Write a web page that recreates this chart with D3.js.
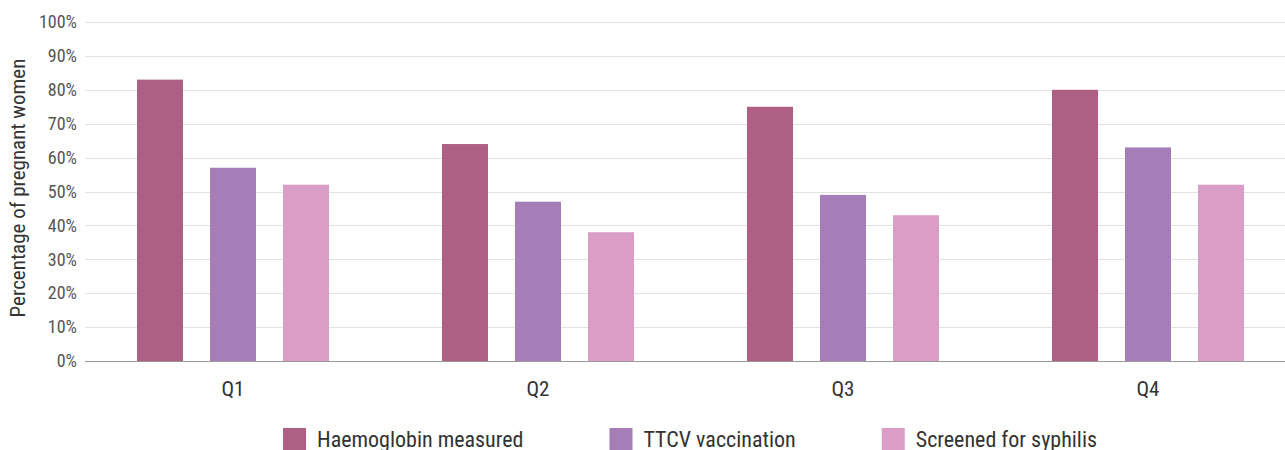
<!DOCTYPE html>
<html><head><meta charset="utf-8">
<script src="https://cdn.jsdelivr.net/npm/d3@7/dist/d3.min.js"></script>
<style>
html,body{margin:0;padding:0;background:#fff;}
text{font-family:"Roboto Condensed","Liberation Sans Narrow","Roboto",sans-serif;}
</style></head>
<body><svg id="c" width="1285" height="450"></svg>
<script>
const quarters = ["Q1","Q2","Q3","Q4"];
const seriesNames = ["Haemoglobin measured","TTCV vaccination","Screened for syphilis"];
const haemoglobin = [83,64,75,80];
const ttcv = [57,47,49,63];
const syphilis = [52,38,43,52];
const yTicks = [0,10,20,30,40,50,60,70,80,90,100];
const colors = ["#ad6084","#a57db7","#da9dc6"];
const yTitle = "Percentage of pregnant women";

const seriesValues = [haemoglobin, ttcv, syphilis];
const svg = d3.select("#c");
const plotL = 85, plotR = 1285, plotT = 22, plotB = 361;

const y = d3.scaleLinear().domain([0,100]).range([plotB, plotT]);
const x0 = d3.scaleBand().domain(quarters).range([80.5, 1300.5]).padding(0);
const x1 = d3.scaleBand().domain(seriesNames).range([56.5, 248.5]).paddingInner(27/73).paddingOuter(0);

// gridlines
svg.append("g").selectAll("line").data(yTicks.filter(d=>d>0)).join("line")
  .attr("x1", plotL).attr("x2", plotR)
  .attr("y1", d=>Math.round(y(d))+0.5).attr("y2", d=>Math.round(y(d))+0.5)
  .attr("stroke","#e3e3e3").attr("stroke-width",1);

// y tick labels
const yAxis = d3.axisLeft(y).tickValues(yTicks).tickFormat(d=>d+"%").tickSize(0).tickPadding(0);
const ga = svg.append("g").attr("transform",`translate(${plotL-8},0)`).call(yAxis);
ga.select(".domain").remove();
ga.attr("font-size",null).attr("font-family",null);
ga.selectAll("text").attr("font-size",18).attr("fill","#555");

// bars
const groups = svg.append("g").selectAll("g").data(quarters).join("g")
  .attr("transform", d=>`translate(${x0(d)},0)`);
groups.selectAll("rect").data((q,i)=>seriesNames.map((s,j)=>({s, v: seriesValues[j][i], c: colors[j]})))
  .join("rect")
  .attr("x", d=>x1(d.s)).attr("width", x1.bandwidth())
  .attr("y", d=>y(d.v)).attr("height", d=>y(0)-y(d.v))
  .attr("fill", d=>d.c);

// baseline
svg.append("line").attr("x1",plotL).attr("x2",plotR).attr("y1",plotB+0.5).attr("y2",plotB+0.5)
  .attr("stroke","#999").attr("stroke-width",1);

// x labels
const xAxis = d3.axisBottom(x0).tickSize(0).tickPadding(0);
const gx = svg.append("g").attr("transform",`translate(0,${plotB})`).call(xAxis);
gx.select(".domain").remove();
gx.attr("font-size",null).attr("font-family",null);
gx.selectAll("text").attr("font-size",21).attr("fill","#333").attr("y",35).attr("dy",null);

// y title
svg.append("text").attr("transform",`translate(25,188) rotate(-90)`)
  .attr("text-anchor","middle").attr("font-size",21).attr("fill","#333").text(yTitle);

// legend
const leg = svg.append("g");
const items = leg.selectAll("g").data(seriesNames).join("g");
items.append("rect").attr("width",23).attr("height",22).attr("y",428).attr("fill",(d,i)=>colors[i]);
items.append("text").attr("x",34).attr("y",447).attr("font-size",22).attr("fill","#333").text(d=>d);
let xpos = 0; const pos = [];
items.each(function(){ pos.push(xpos); xpos += 34 + this.querySelector("text").getComputedTextLength() + 86; });
const total = xpos - 86;
const start = 690 - total/2;
items.attr("transform",(d,i)=>`translate(${start+pos[i]},0)`);
</script></body></html>
